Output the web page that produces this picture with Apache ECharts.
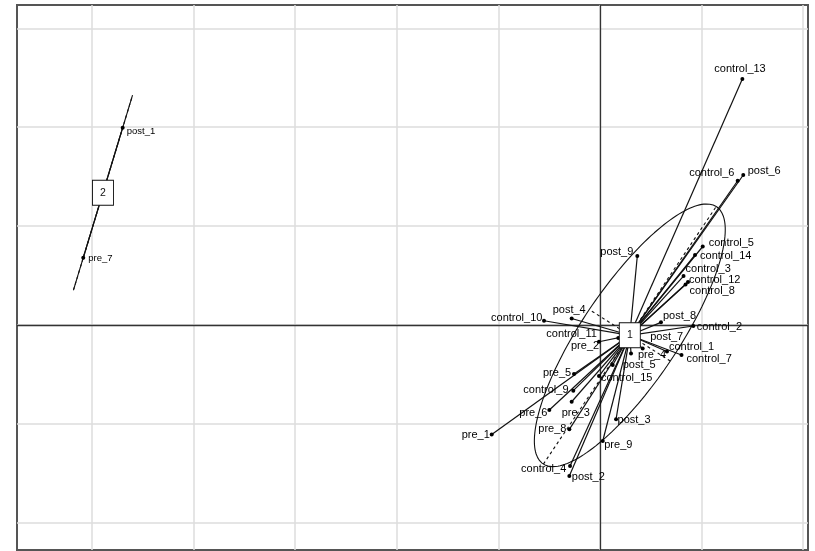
<!DOCTYPE html>
<html>
<head>
<meta charset="utf-8">
<script src="https://cdn.jsdelivr.net/npm/echarts@6/dist/echarts.min.js"></script>
<style>
  html, body { margin: 0; padding: 0; background: #fff; }
  #chart { width: 815px; height: 551px; }
</style>
</head>
<body>
<div id="chart"></div>
<script>
// Row scores on the first two axes, with their group membership
const pointNames = [
  'post_9', 'control_5', 'control_14', 'control_3', 'control_12', 'control_8',
  'post_4', 'control_10', 'post_8', 'control_2', 'control_11', 'pre_2',
  'post_7', 'pre_4', 'control_1', 'control_7', 'post_5', 'control_15',
  'pre_5', 'control_9', 'pre_6', 'pre_3', 'pre_8', 'pre_1',
  'post_3', 'pre_9', 'control_4', 'post_2', 'control_13', 'post_6', 'control_6',
  'post_1', 'pre_7'
];
const pointX = [
  0.367, 1.011, 0.935, 0.822, 0.866, 0.842,
  -0.279, -0.551, 0.600, 0.918, 0.180, -0.010,
  0.420, 0.305, 0.659, 0.802, 0.125, -0.010,
  -0.256, -0.263, -0.499, -0.279, -0.302, -1.066,
  0.158, 0.027, -0.295, -0.302, 1.401, 1.410, 1.355,
  -4.698, -5.086
];
const pointY = [
  0.698, 0.794, 0.708, 0.495, 0.435, 0.410,
  0.066, 0.043, 0.027, -0.010, -0.131, -0.169,
  -0.238, -0.288, -0.268, -0.303, -0.404, -0.516,
  -0.495, -0.664, -0.859, -0.776, -1.055, -1.106,
  -0.953, -1.173, -1.426, -1.527, 2.487, 1.517, 1.459,
  1.995, 0.680
];
const pointClass = [
  '1', '1', '1', '1', '1', '1',
  '1', '1', '1', '1', '1', '1',
  '1', '1', '1', '1', '1', '1',
  '1', '1', '1', '1', '1', '1',
  '1', '1', '1', '1', '1', '1', '1',
  '2', '2'
];
const classNames = ['1', '2'];

// Reference grid (unit spacing) and visible window
const gridX = [-5, -4, -3, -2, -1, 0, 1, 2];
const gridY = [-2, -1, 0, 1, 2, 3];
const xRange = [-5.738, 2.047];
const yRange = [-2.275, 3.236];

// Label placement around each dot: [dx, dy] in pixels from the dot to the text's left-middle
const labelOffsets = {
  post_9: [-37, -4], control_5: [6, -4], control_14: [5, 1], control_3: [2, -7],
  control_12: [1, -2], control_8: [4, 6.5], post_4: [-19, -8.5], control_10: [-53, -3],
  post_8: [2, -6], control_2: [3.5, 0.5], control_11: [-72, -3.7], pre_2: [-28, 4],
  post_7: [7.5, -11.5], pre_4: [7, 1], control_1: [2, -4.5], control_7: [5, 4],
  post_5: [10, 0], control_15: [2, 1.5], pre_5: [-31, -1], control_9: [-50, -0.5],
  pre_6: [-30, 3], pre_3: [-10, 11], pre_8: [-31, 0], pre_1: [-30, 0.7],
  post_3: [1.5, 0.7], pre_9: [1.5, 4], control_4: [-49, 3], post_2: [2.5, 1],
  control_13: [-28, -10], post_6: [4.4, -4], control_6: [-48.5, -7.4],
  post_1: [4, 4], pre_7: [5, 0.5]
};
const labelFontSize = { '1': 11, '2': 9.5 };
const ellipseScale = 1.5;

// Per-class centroid, covariance and ellipse geometry
function classGeometry(cls) {
  const idx = pointClass.map((c, i) => c === cls ? i : -1).filter(i => i >= 0);
  const n = idx.length;
  const mx = idx.reduce((s, i) => s + pointX[i], 0) / n;
  const my = idx.reduce((s, i) => s + pointY[i], 0) / n;
  let vxx = 0, vyy = 0, vxy = 0;
  idx.forEach(i => {
    const dx = pointX[i] - mx, dy = pointY[i] - my;
    vxx += dx * dx; vyy += dy * dy; vxy += dx * dy;
  });
  vxx /= n; vyy /= n; vxy /= n;
  const tr = vxx + vyy, det = vxx * vyy - vxy * vxy;
  const disc = Math.sqrt(Math.max(tr * tr / 4 - det, 0));
  const l1 = tr / 2 + disc, l2 = Math.max(tr / 2 - disc, 0);
  let ux, uy;
  if (Math.abs(vxy) > 1e-12) { ux = l1 - vyy; uy = vxy; }
  else if (vxx >= vyy) { ux = 1; uy = 0; } else { ux = 0; uy = 1; }
  const norm = Math.hypot(ux, uy); ux /= norm; uy /= norm;
  const vx = -uy, vy = ux;
  const a = ellipseScale * Math.sqrt(l1), b = ellipseScale * Math.sqrt(l2);
  const outline = [];
  for (let k = 0; k <= 180; k++) {
    const t = 2 * Math.PI * k / 180;
    outline.push([mx + a * Math.cos(t) * ux + b * Math.sin(t) * vx,
                  my + a * Math.cos(t) * uy + b * Math.sin(t) * vy]);
  }
  return {
    idx, mx, my, outline,
    major: [[mx - a * ux, my - a * uy], [mx + a * ux, my + a * uy]],
    minor: [[mx - b * vx, my - b * vy], [mx + b * vx, my + b * vy]]
  };
}
const geoms = classNames.map(classGeometry);

const series = [];

// light reference grid
series.push({
  type: 'lines', coordinateSystem: 'cartesian2d', silent: true, z: 1,
  lineStyle: { color: '#dddddd', width: 1.5, opacity: 1 },
  data: gridX.map(x => ({ coords: [[x, yRange[0]], [x, yRange[1]]] }))
    .concat(gridY.map(y => ({ coords: [[xRange[0], y], [xRange[1], y]] })))
});
// origin axes
series.push({
  type: 'lines', coordinateSystem: 'cartesian2d', silent: true, z: 2,
  lineStyle: { color: '#333', width: 1.3, opacity: 1 },
  data: [
    { coords: [[0, yRange[0]], [0, yRange[1]]] },
    { coords: [[xRange[0], 0], [xRange[1], 0]] }
  ]
});

geoms.forEach(g => {
  // ellipse outline
  series.push({
    type: 'line', silent: true, z: 3, symbol: 'none', smooth: false,
    lineStyle: { color: '#111', width: 1.1 },
    data: g.outline
  });
  // ellipse axes
  series.push({
    type: 'lines', coordinateSystem: 'cartesian2d', silent: true, z: 3,
    lineStyle: { color: '#111', width: 1.1, type: [3, 3], opacity: 1 },
    data: [{ coords: g.major }, { coords: g.minor }]
  });
  // star from centroid to each member
  series.push({
    type: 'lines', coordinateSystem: 'cartesian2d', silent: true, z: 4,
    lineStyle: { color: '#111', width: 1.2, opacity: 1 },
    data: g.idx.map(i => ({ coords: [[g.mx, g.my], [pointX[i], pointY[i]]] }))
  });
});

// points with their labels
series.push({
  type: 'scatter', z: 5, symbol: 'circle', symbolSize: 4,
  itemStyle: { color: '#000', opacity: 1 },
  data: pointNames.map((name, i) => {
    const off = labelOffsets[name] || [4, 0];
    return {
      name: name,
      value: [pointX[i], pointY[i]],
      label: {
        show: true, formatter: name, position: [2, 2],
        align: 'left', verticalAlign: 'middle', offset: off,
        fontFamily: 'Liberation Sans', fontSize: labelFontSize[pointClass[i]],
        color: '#000'
      }
    };
  })
});

// class label boxes at the centroids
series.push({
  type: 'scatter', z: 6, symbol: 'rect', symbolSize: [21, 25],
  itemStyle: { color: '#fff', borderColor: '#111', borderWidth: 1, opacity: 1 },
  label: {
    show: true, position: 'inside', formatter: p => p.name,
    fontFamily: 'Liberation Sans', fontSize: 10.5, color: '#111'
  },
  data: geoms.map((g, ci) => ({ name: classNames[ci], value: [g.mx, g.my] }))
});

const chart = echarts.init(document.getElementById('chart'), null, { renderer: 'canvas' });
chart.setOption({
  animation: false,
  backgroundColor: '#fff',
  grid: {
    left: 17, top: 5, right: 7, bottom: 1, show: true,
    borderColor: '#555', borderWidth: 2, backgroundColor: '#fff'
  },
  xAxis: {
    type: 'value', min: xRange[0], max: xRange[1],
    axisLine: { show: false }, axisTick: { show: false },
    axisLabel: { show: false }, splitLine: { show: false }
  },
  yAxis: {
    type: 'value', min: yRange[0], max: yRange[1],
    axisLine: { show: false }, axisTick: { show: false },
    axisLabel: { show: false }, splitLine: { show: false }
  },
  series: series
});
</script>
</body>
</html>
